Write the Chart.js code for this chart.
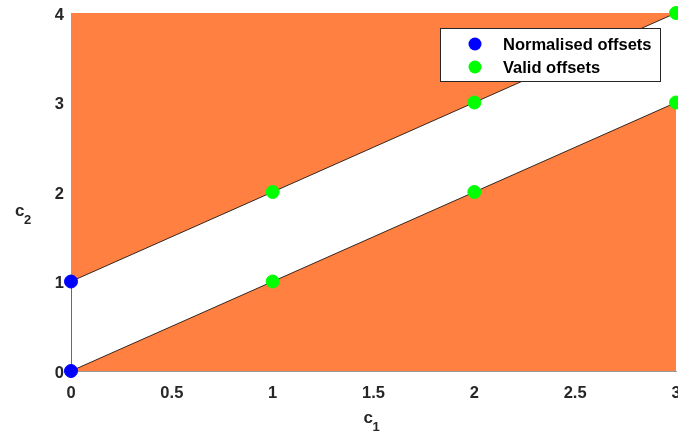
<!DOCTYPE html>
<html>
<head>
<meta charset="utf-8">
<script src="https://cdn.jsdelivr.net/npm/chart.js@4"></script>
<style>
  html, body { margin: 0; padding: 0; background: #fff; }
  #wrap { width: 678px; height: 440px; }
</style>
</head>
<body>
<div id="wrap"><canvas id="chart"></canvas></div>
<script>
// band edges (c2 = c1 + 1 and c2 = c1)
var upperX = [0, 3];
var upperY = [1, 4];
var lowerX = [0, 3];
var lowerY = [0, 3];

// offsets
var normX = [0, 0];
var normY = [0, 1];
var validX = [1, 1, 2, 2, 3, 3];
var validY = [1, 2, 2, 3, 3, 4];

var xTicks = [0, 0.5, 1, 1.5, 2, 2.5, 3];
var yTicks = [0, 1, 2, 3, 4];

var orange = '#ff8040';
var font = '"Liberation Sans", Arial, sans-serif';

function pts(xs, ys) {
  return xs.map(function (x, i) { return { x: x, y: ys[i] }; });
}

// legend box inside the plot + subscript axis titles
var extras = {
  id: 'extras',
  afterDraw: function (chart) {
    var ctx = chart.ctx;
    var area = chart.chartArea;
    ctx.save();

    // axis titles
    ctx.fillStyle = '#262626';
    ctx.textBaseline = 'alphabetic';
    ctx.textAlign = 'left';
    ctx.font = 'bold 17px ' + font;
    var cx = (area.left + area.right) / 2 - 10;
    ctx.fillText('c', cx, 423);
    ctx.font = 'bold 13px ' + font;
    ctx.fillText('1', cx + 9, 431);

    ctx.font = 'bold 17px ' + font;
    ctx.fillText('c', 15, 216);
    ctx.font = 'bold 13px ' + font;
    ctx.fillText('2', 24, 224);

    // legend
    var lx = 440, ly = 28, lw = 220, lh = 53;
    ctx.fillStyle = '#fff';
    ctx.fillRect(lx, ly, lw, lh);
    ctx.strokeStyle = '#262626';
    ctx.lineWidth = 1;
    ctx.strokeRect(lx + 0.5, ly + 0.5, lw, lh);

    var items = chart.data.datasets.filter(function (d) { return d.legend; });
    items.forEach(function (d, i) {
      var y = ly + 16 + i * 23;
      ctx.beginPath();
      ctx.arc(lx + 35, y, 6.5, 0, Math.PI * 2);
      ctx.fillStyle = d.backgroundColor;
      ctx.fill();
      ctx.fillStyle = '#000';
      ctx.font = 'bold 16.5px ' + font;
      ctx.textBaseline = 'middle';
      ctx.fillText(d.label, lx + 63, y + 1);
    });
    ctx.restore();
  }
};

var ctx = document.getElementById('chart');
var myChart = new Chart(ctx, {
  type: 'scatter',
  data: {
    datasets: [
      {
        label: 'Normalised offsets',
        legend: true,
        data: pts(normX, normY),
        backgroundColor: '#0000ff',
        borderColor: '#0000ff',
        pointRadius: 6.5,
        clip: false,
        order: 0
      },
      {
        label: 'Valid offsets',
        legend: true,
        data: pts(validX, validY),
        backgroundColor: '#00ff00',
        borderColor: '#00ff00',
        pointRadius: 6.5,
        clip: false,
        order: 0
      },
      {
        type: 'line',
        label: 'upper',
        data: pts(upperX, upperY),
        borderColor: '#000',
        borderWidth: 0.8,
        backgroundColor: orange,
        pointRadius: 0,
        fill: 'end',
        order: 2
      },
      {
        type: 'line',
        label: 'lower',
        data: pts(lowerX, lowerY),
        borderColor: '#000',
        borderWidth: 0.8,
        backgroundColor: orange,
        pointRadius: 0,
        fill: 'start',
        order: 2
      }
    ]
  },
  options: {
    responsive: true,
    maintainAspectRatio: false,
    animation: false,
    layout: { autoPadding: false, padding: { top: 13, right: 2, left: 0, bottom: 0 } },
    plugins: {
      legend: { display: false },
      tooltip: { enabled: false }
    },
    scales: {
      x: {
        type: 'linear',
        min: 0,
        max: 3,
        afterBuildTicks: function (s) { s.ticks = xTicks.map(function (v) { return { value: v }; }); },
        afterFit: function (s) { s.height = 69; s.paddingLeft = 0; s.paddingRight = 0; },
        grid: { drawOnChartArea: false, drawTicks: false },
        border: { color: '#9a9a9a', width: 1 },
        ticks: {
          color: '#262626',
          padding: 13,
          maxRotation: 0,
          autoSkip: false,
          callback: function (v) { return String(v); },
          font: { family: font, size: 16.5, weight: 'bold' }
        }
      },
      y: {
        type: 'linear',
        min: 0,
        max: 4,
        afterBuildTicks: function (s) { s.ticks = yTicks.map(function (v) { return { value: v }; }); },
        afterFit: function (s) { s.width = 71; s.paddingTop = 0; s.paddingBottom = 0; },
        grid: { drawOnChartArea: false, drawTicks: false },
        border: { color: '#6a6a6a', width: 1 },
        ticks: {
          color: '#262626',
          padding: 7,
          labelOffset: 2,
          autoSkip: false,
          callback: function (v) { return String(v); },
          font: { family: font, size: 16.5, weight: 'bold' }
        }
      }
    }
  },
  plugins: [extras]
});
</script>
</body>
</html>
